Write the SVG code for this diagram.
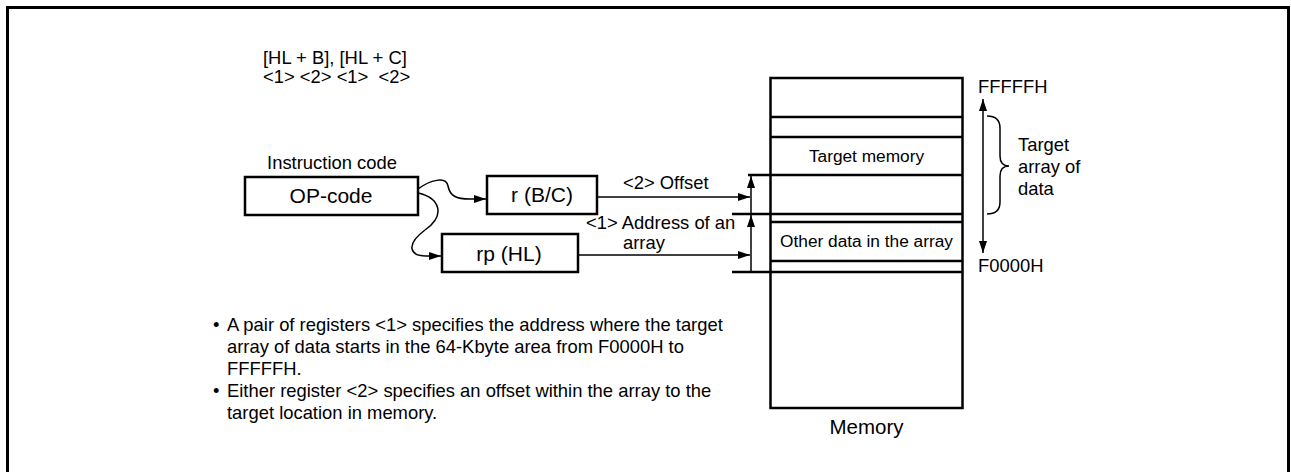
<svg xmlns="http://www.w3.org/2000/svg" width="1291" height="472" viewBox="0 0 1291 472">
<style>
text{font-family:"Liberation Sans",Arial,sans-serif;fill:#000}
.box{fill:#fff;stroke:#000;stroke-width:2.5}
.ln{fill:none;stroke:#000;stroke-width:2.5}
.thin{fill:none;stroke:#000;stroke-width:1.5}
.s17{font-size:17.3px}
.s18{font-size:18.4px}
.s21{font-size:21px}
</style>
<defs>
<marker id="ah" viewBox="0 0 12 8" refX="12" refY="4" markerWidth="12" markerHeight="8" markerUnits="userSpaceOnUse" orient="auto-start-reverse">
<path d="M0,0 L12,4 L0,8 Z" fill="#000"/>
</marker>
</defs>
<rect width="1291" height="472" fill="#fff"/>
<path d="M7.5,480 V7.5 H1288.5 V480" fill="none" stroke="#000" stroke-width="3"/>

<g id="header">
<text class="s18" x="263" y="64">[HL + B], [HL + C]</text>
<text class="s18" x="263" y="83" xml:space="preserve">&lt;1&gt; &lt;2&gt; &lt;1&gt;  &lt;2&gt;</text>
</g>

<g id="opcode">
<text class="s18" x="332" y="169" text-anchor="middle">Instruction code</text>
<rect class="box" x="245" y="177" width="173" height="38"/>
<text class="s21" x="331" y="203" text-anchor="middle">OP-code</text>
</g>

<g id="r-bc">
<rect class="box" x="487" y="176" width="110" height="38"/>
<text class="s21" x="542" y="202" text-anchor="middle">r (B/C)</text>
</g>

<g id="rp-hl">
<rect class="box" x="442" y="234" width="136" height="38"/>
<text class="s21" x="509" y="261" text-anchor="middle">rp (HL)</text>
</g>

<g id="memory">
<rect class="box" x="770.5" y="78" width="192" height="330"/>
<path class="ln" d="M770.5,117 H962.5 M770.5,137 H962.5 M748,175 H962.5 M732,214 H962.5 M770.5,222 H962.5 M770.5,261 H962.5 M732,272 H962.5"/>
<text class="s17" x="866.5" y="162" text-anchor="middle">Target memory</text>
<text class="s17" x="866.5" y="247" text-anchor="middle">Other data in the array</text>
<text x="866.5" y="434" text-anchor="middle" font-size="20.5">Memory</text>
<text class="s18" x="978" y="93">FFFFFH</text>
<text class="s18" x="978" y="272">F0000H</text>
</g>

<g id="range-label">
<path class="thin" d="M987,116 Q1000,116 1000,128 V156 Q1000,166 1009,166 Q1000,166 1000,176 V202 Q1000,214 987,214"/>
<text class="s18" x="1018" y="151">Target</text>
<text class="s18" x="1018" y="173">array of</text>
<text class="s18" x="1018" y="195">data</text>
</g>

<g id="connectors">
<path class="thin" d="M418,189 C430,180 446,176 448,186 C450,196 456,199 470,199 L486,199" marker-end="url(#ah)"/>
<path class="thin" d="M418,193 C440,198 446,215 425,230 C405,245 410,256 426,256 L441,256" marker-end="url(#ah)"/>
<path class="thin" d="M597,197 H750" marker-end="url(#ah)"/>
<path class="thin" d="M578,255 H750" marker-end="url(#ah)"/>
<path class="thin" d="M751,272 V215" marker-end="url(#ah)"/>
<path class="thin" d="M751,214 V176" marker-end="url(#ah)"/>
<path class="thin" d="M983,99 V253" marker-start="url(#ah)" marker-end="url(#ah)"/>
<text class="s18" x="623" y="189">&lt;2&gt; Offset</text>
<text class="s18" x="586" y="229">&lt;1&gt; Address of an</text>
<text class="s18" x="623" y="249">array</text>
</g>

<g id="notes">
<text class="s18" x="213" y="331">•</text>
<text class="s18" x="227" y="331">A pair of registers &lt;1&gt; specifies the address where the target</text>
<text class="s18" x="227" y="353">array of data starts in the 64-Kbyte area from F0000H to</text>
<text class="s18" x="227" y="375">FFFFFH.</text>
<text class="s18" x="213" y="397">•</text>
<text class="s18" x="227" y="397">Either register &lt;2&gt; specifies an offset within the array to the</text>
<text class="s18" x="227" y="419">target location in memory.</text>
</g>
</svg>
